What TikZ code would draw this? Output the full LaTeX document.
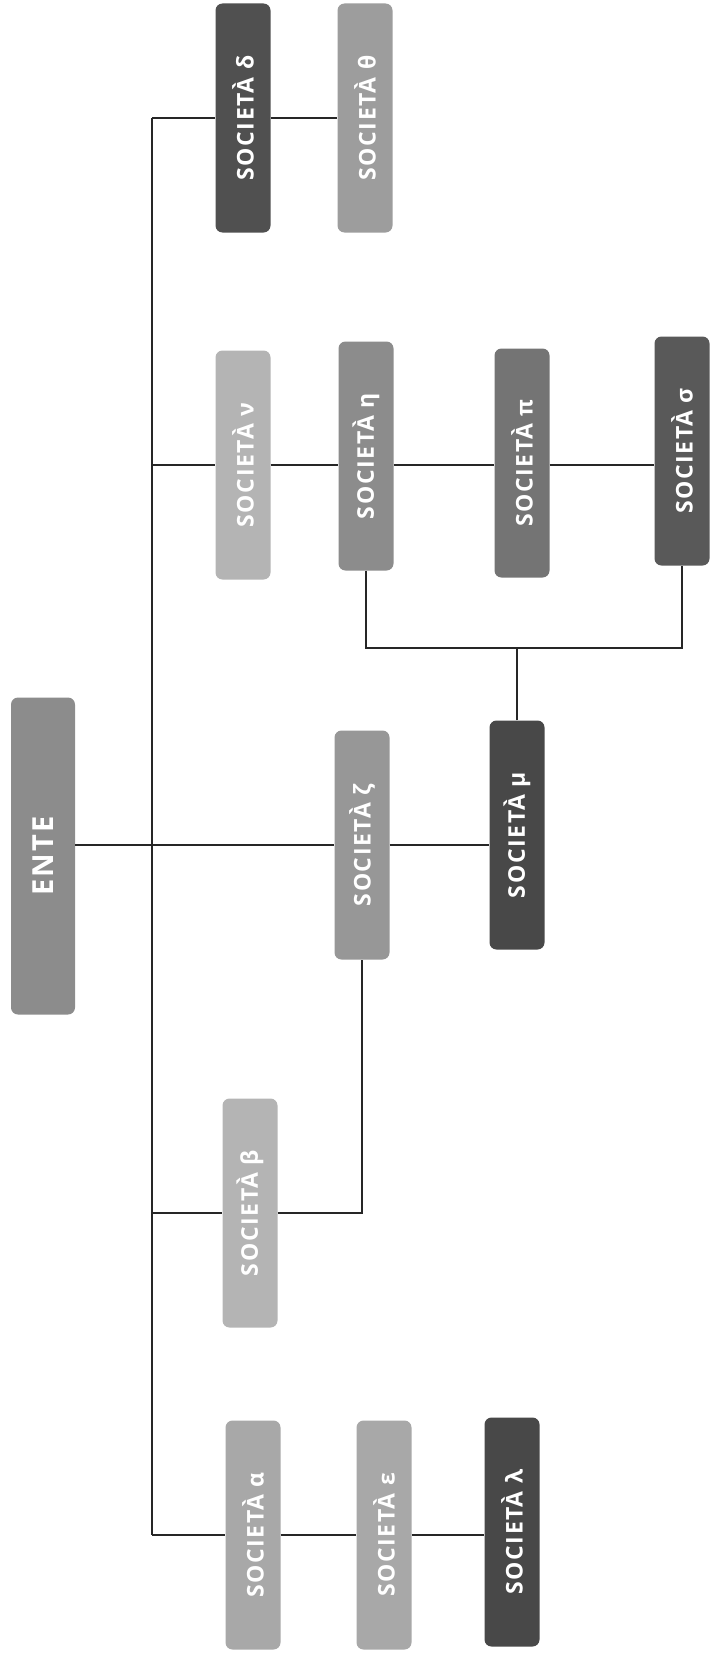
\documentclass[tikz,border=0pt]{standalone}
\usepackage{fontspec}
\usepackage{graphicx}
\usepackage{tikz}
\newfontfamily\boxfont{Open Sans}[LetterSpace=7]
\definecolor{gdark}{HTML}{505050}
\definecolor{gmid}{HTML}{747474}
\definecolor{gmed}{HTML}{8C8C8C}
\definecolor{glight}{HTML}{A8A8A8}
\definecolor{gpale}{HTML}{B4B4B4}
\newcommand{\soc}[1]{\rotatebox{90}{SOCIETÀ #1}}

\begin{document}
\begin{tikzpicture}[
		x=1pt, y=-1pt,
		box/.style={rounded corners=7pt, minimum width=55pt, minimum height=229pt,
			inner sep=0pt, text=white, font=\boxfont\bfseries\fontsize{23}{23}\selectfont},
		link/.style={draw=black!85, line width=1.1pt},
		]
		\useasboundingbox (0,0) rectangle (710,1662);
		% root
		\node[box, fill=gmed, minimum width=64pt, minimum height=317pt,
			font=\boxfont\bfseries\fontsize{29}{29}\selectfont] (ente) at (43,856) {\rotatebox{90}{ENTE}};
		% first row
		\node[box, fill=gdark] (delta) at (243,118) {\soc{δ}};
		\node[box, fill=gmed!85!white] (theta) at (365,118) {\soc{θ}};
		% second row
		\node[box, fill=gpale] (nu) at (243,465) {\soc{ν}};
		\node[box, fill=gmed] (eta) at (366,456) {\soc{η}};
		\node[box, fill=gmid] (pi) at (522,463) {\soc{π}};
		\node[box, fill=gdark!95] (sigma) at (682,451) {\soc{σ}};
		% middle
		\node[box, fill=glight!90!black] (zeta) at (362,845) {\soc{ζ}};
		\node[box, fill=gdark!90!black] (mu) at (517,835) {\soc{μ}};
		\node[box, fill=gpale] (beta) at (250,1213) {\soc{β}};
		% last row
		\node[box, fill=glight] (alpha) at (253,1535) {\soc{α}};
		\node[box, fill=glight] (eps) at (384,1535) {\soc{ε}};
		\node[box, fill=gdark!90!black] (lambda) at (512,1532) {\soc{λ}};

		\coordinate (ttop) at (152,118);
		\coordinate (tbot) at (152,1535);
		\coordinate (mjoin) at (517,648);

		\draw[link] (ttop) -- (tbot);
		\draw[link] (ttop) -- (delta.west);
		\draw[link] (delta) -- (theta);
		\draw[link] (nu.west -| ttop) -- (nu.west);
		\draw[link] (nu) -- (nu -| eta.west);
		\draw[link] (eta.east |- nu) -- (pi.west |- nu);
		\draw[link] (pi.east |- nu) -- (sigma.west |- nu);
		\draw[link] (ente.east |- zeta) -- (zeta.west);
		\draw[link] (zeta) -- (zeta -| mu.west);
		\draw[link] (beta.west -| ttop) -- (beta.west);
		\draw[link] (beta.east) -| (zeta.south);
		\draw[link] (mu.north) -- (mjoin);
		\draw[link] (eta.south) |- (mjoin) -| (sigma.south);
		\draw[link] (alpha.west -| ttop) -- (alpha.west);
		\draw[link] (alpha) -- (eps);
		\draw[link] (eps) -- (lambda.west |- eps);
\end{tikzpicture}
\end{document}
